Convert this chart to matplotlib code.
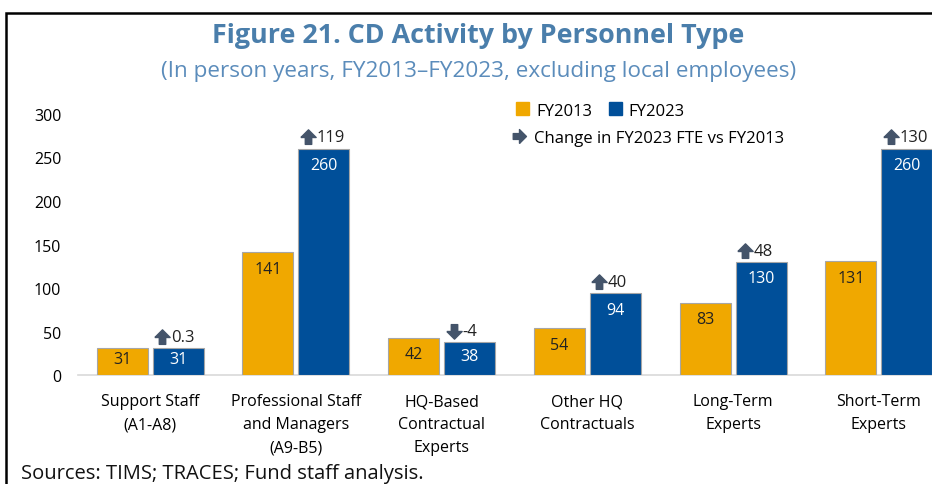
import matplotlib.pyplot as plt
import numpy as np
from matplotlib.lines import Line2D
from matplotlib.patches import Patch, Rectangle

plt.rcParams['font.family'] = ['Open Sans', 'DejaVu Sans']

categories = ['Support Staff\n(A1-A8)', 'Professional Staff\nand Managers\n(A9-B5)',
              'HQ-Based\nContractual\nExperts', 'Other HQ\nContractuals',
              'Long-Term\nExperts', 'Short-Term\nExperts']
fy2013 = [31, 141, 42, 54, 83, 131]
fy2023 = [31, 260, 38, 94, 130, 260]
change = [0.3, 119, -4, 40, 48, 130]
change_labels = ['0.3', '119', '-4', '40', '48', '130']

orange = '#F0A800'
blue = '#004F99'
arrow_col = '#44546A'
title_col = '#4A7EAB'

up_arrow = [(-1, 0), (0, 1), (1, 0), (0.42, 0), (0.42, -0.9), (-0.42, -0.9), (-0.42, 0), (-1, 0)]
down_arrow = [(x, -y) for x, y in up_arrow]
right_arrow = [(y, x) for x, y in up_arrow]

fig = plt.figure(figsize=(9.32, 4.85), dpi=100)
ax = fig.add_axes([0.0837, 0.2247, 0.9163, 0.5382])

x = np.arange(len(categories))
w = 0.35
off = 0.192
ax.bar(x - off, fy2013, w, color=orange, edgecolor='#A6A6A6', linewidth=0.8, zorder=3)
ax.bar(x + off, fy2023, w, color=blue, edgecolor='#A6A6A6', linewidth=0.8, zorder=3)

for i in range(len(categories)):
    ax.text(x[i] - off, fy2013[i] - min(19, fy2013[i] * 0.42), str(fy2013[i]), ha='center',
            va='center', fontsize=11.5, color='#222222', zorder=4)
    ax.text(x[i] + off, fy2023[i] - min(19, fy2023[i] * 0.42), str(fy2023[i]), ha='center',
            va='center', fontsize=11.5, color='white', zorder=4)
    marker = up_arrow if change[i] >= 0 else down_arrow
    ax.plot(x[i] + off - 0.11, fy2023[i] + 13, marker=marker, markersize=11,
            color=arrow_col, linestyle='none', clip_on=False, zorder=4)
    ax.text(x[i] + off - 0.05, fy2023[i] + 13, change_labels[i], ha='left', va='center',
            fontsize=12, color='#222222', clip_on=False)

ax.set_xlim(-0.494, 5.364)
ax.set_ylim(0, 300)
ax.set_yticks(range(0, 301, 50))
ax.set_xticks(x)
ax.set_xticklabels(categories, fontsize=11.5, linespacing=1.6)
ax.tick_params(axis='y', length=0, pad=12, labelsize=11.5)
ax.tick_params(axis='x', length=0, pad=13)
for s in ['top', 'right', 'left']:
    ax.spines[s].set_visible(False)
ax.spines['bottom'].set_color('#D9D9D9')
ax.spines['bottom'].set_linewidth(1.2)

leg1 = ax.legend(handles=[Patch(color=orange, label='FY2013'), Patch(color=blue, label='FY2023')],
                 loc='upper left', bbox_to_anchor=(0.505, 1.07), ncol=2, frameon=False,
                 fontsize=12, handlelength=0.8, handleheight=0.8, handletextpad=0.4,
                 columnspacing=1.0, borderaxespad=0)
ax.add_artist(leg1)
ax.legend(handles=[Line2D([], [], marker=right_arrow, color=arrow_col, linestyle='none',
                          markersize=10, label='Change in FY2023 FTE vs FY2013')],
          loc='upper left', bbox_to_anchor=(0.497, 0.965), frameon=False, fontsize=12,
          handlelength=1.2, handletextpad=0.3, borderaxespad=0)

fig.text(0.513, 0.925, 'Figure 21. CD Activity by Personnel Type', ha='center', va='center',
         fontsize=19.4, fontweight='bold', color=title_col)
fig.text(0.513, 0.852, '(In person years, FY2013\u2013FY2023, excluding local employees)',
         ha='center', va='center', fontsize=16.2, color='#5B8CBB')
fig.text(0.023, 0.003, 'Sources: TIMS; TRACES; Fund staff analysis.', ha='left', va='bottom',
         fontsize=14.5, color='#111111')

fig.patches.append(Rectangle((0.006, -0.1), 1.2, 0.1 + 0.972, transform=fig.transFigure,
                             fill=False, edgecolor='black', linewidth=1.8))

fig.savefig('out.png', dpi=100)
